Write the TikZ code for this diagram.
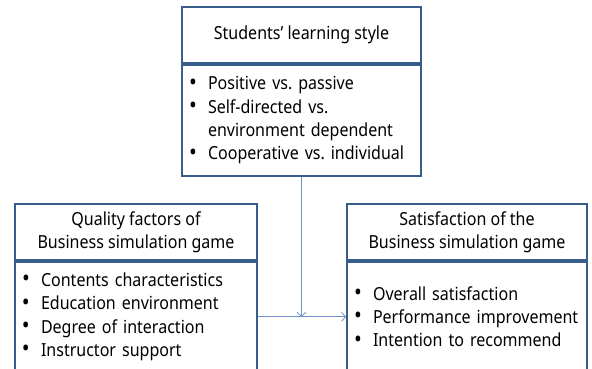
\documentclass[tikz,border=0pt]{standalone}
\usepackage{fontspec}
\setmainfont{Noto Sans}[FakeStretch=0.89]
\usetikzlibrary{arrows.meta}
\definecolor{boxline}{RGB}{56,93,138}
\definecolor{linkline}{RGB}{110,145,200}
\newcommand{\bitem}[1]{\makebox[19pt][l]{\raisebox{-0.3pt}{\scalebox{1.3}{\bfseries•}}}#1}
\newcommand{\bcont}[1]{\hspace*{19pt}#1}
\tikzset{
  boxpart/.style={draw=boxline, line width=1.8pt, rectangle, inner sep=0pt,
    font=\fontsize{18}{23.3}\selectfont\frenchspacing},
  headpart/.style={boxpart, align=center},
  bodypart/.style={boxpart, align=left, text width=#1, inner xsep=7pt},
  link/.style={draw=linkline, line width=0.8pt},
  linkarrow/.style={link, -{Straight Barb[length=4pt,width=9pt]}},
}
\begin{document}
\begin{tikzpicture}[x=1pt,y=-1pt]
\useasboundingbox (0,0) rectangle (592,368);
\clip (0,0) rectangle (592,368);

% top box: learning style
\node[headpart, minimum width=239pt, minimum height=56pt] (tophead) at (301.5,35) {Students’ learning style};
\node[bodypart=225pt, minimum width=239pt, minimum height=111pt, anchor=north] (topbody) at (tophead.south)
  {\bitem{Positive vs. passive}\\
   \bitem{Self-directed vs.}\\
   \bcont{environment dependent}\\
   \bitem{Cooperative vs. individual}};

% left box: quality factors
\node[headpart, minimum width=242pt, minimum height=56pt] (lefthead) at (136,232) {Quality factors of\\Business simulation game};
\node[bodypart=228pt, minimum width=242pt, minimum height=110pt, anchor=north] (leftbody) at (lefthead.south)
  {\bitem{Contents characteristics}\\
   \bitem{Education environment}\\
   \bitem{Degree of interaction}\\
   \bitem{Instructor support}};

% right box: satisfaction
\node[headpart, minimum width=240pt, minimum height=56pt] (righthead) at (467,232) {Satisfaction of the\\Business simulation game};
\node[bodypart=226pt, minimum width=240pt, minimum height=110pt, anchor=north] (rightbody) at (righthead.south)
  {\bitem{Overall satisfaction}\\
   \bitem{Performance improvement}\\
   \bitem{Intention to recommend}};

% connectors
\coordinate (joint) at (topbody.south |- leftbody.east);
\draw[linkarrow] (topbody.south) -- (joint);
\draw[linkarrow] (leftbody.east) -- (rightbody.west);
\end{tikzpicture}
\end{document}
